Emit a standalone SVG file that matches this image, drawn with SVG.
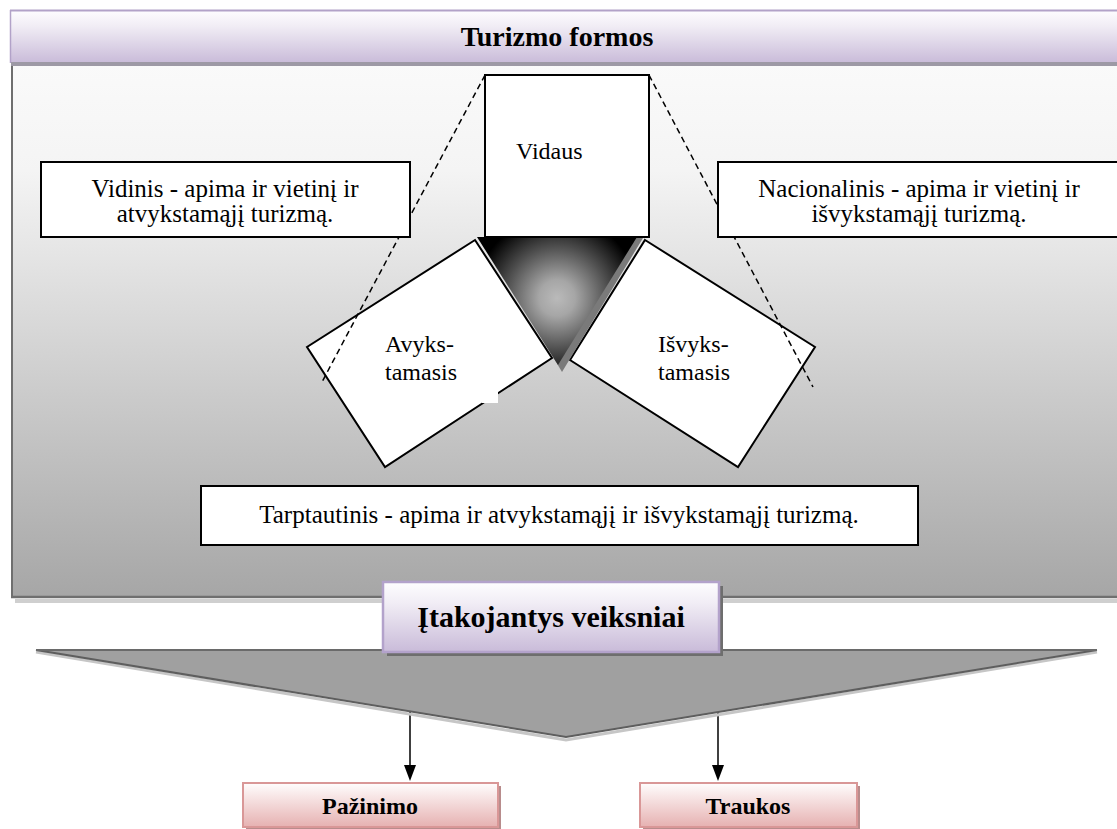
<svg xmlns="http://www.w3.org/2000/svg" width="1117" height="829" viewBox="0 0 1117 829">
<defs>
<style>
.t{font-family:"Liberation Serif","Times New Roman",serif;font-size:25px;fill:#000}
.s{font-family:"Liberation Serif","Times New Roman",serif;font-size:24px;fill:#000}
.b{font-family:"Liberation Serif","Times New Roman",serif;font-weight:bold;fill:#000}
.box{fill:#fff;stroke:#000;stroke-width:2}
.dash{fill:none;stroke:#000;stroke-width:1.5;stroke-dasharray:6 4}
.arr{fill:none;stroke:#000;stroke-width:1.5}
</style>
<linearGradient id="gHead" x1="0" y1="0" x2="0" y2="1"><stop offset="0" stop-color="#fefdff"/><stop offset="0.3" stop-color="#f1edf5"/><stop offset="1" stop-color="#c9bbd9"/></linearGradient>
<linearGradient id="gPanel" x1="0" y1="0" x2="0" y2="1"><stop offset="0" stop-color="#fafafa"/><stop offset="0.2" stop-color="#f4f4f4"/><stop offset="1" stop-color="#a6a6a6"/></linearGradient>
<linearGradient id="gPink" x1="0" y1="0" x2="0" y2="1"><stop offset="0" stop-color="#fffdfd"/><stop offset="1" stop-color="#e6b1b1"/></linearGradient>
<radialGradient id="gTri" gradientUnits="userSpaceOnUse" cx="557" cy="298" r="82"><stop offset="0" stop-color="#bababa"/><stop offset="0.22" stop-color="#a6a6a6"/><stop offset="0.62" stop-color="#505050"/><stop offset="1" stop-color="#000"/></radialGradient>
<marker id="ah" viewBox="0 0 16 12" refX="5" refY="6" markerWidth="16" markerHeight="12" markerUnits="userSpaceOnUse" orient="auto"><path d="M0,0 L16,6 L0,12 z" fill="#000"/></marker>
</defs>

<g id="panel">
<rect x="15" y="599" width="1110" height="4" fill="#cfcfcf"/>
<rect x="11" y="64" width="1120" height="534" fill="url(#gPanel)"/>
<line x1="12" y1="64" x2="12" y2="598" stroke="#6f6f6f" stroke-width="2"/>
<line x1="11" y1="597" x2="1117" y2="597" stroke="#6f6f6f" stroke-width="2.5"/>
</g>

<g id="header">
<rect x="10" y="10" width="1120" height="53" fill="url(#gHead)"/>
<line x1="10" y1="10.5" x2="1117" y2="10.5" stroke="#b2a2c8" stroke-width="2"/>
<line x1="10.5" y1="10" x2="10.5" y2="63" stroke="#b2a2c8" stroke-width="1.5"/>
<rect x="11" y="62" width="1110" height="4" fill="#9d99a5"/>
<text class="b" x="557" y="46" font-size="28" text-anchor="middle">Turizmo formos</text>
</g>

<g id="avykstamasis">
<polygon class="box" points="475,240 552,358 385,467 307,347"/>
<rect x="482" y="392" width="16" height="11" fill="#fff"/>
<text class="s" x="385" y="352">Avyks-</text>
<text class="s" x="385" y="380">tamasis</text>
</g>

<g id="isvykstamasis">
<polygon class="box" points="645,240 815,347 738,467 570,360"/>
<text class="s" x="658" y="352">Išvyks-</text>
<text class="s" x="658" y="380">tamasis</text>
</g>

<g id="triangle">
<polygon points="483,238 643,238 562,372" fill="#7a7a7a"/>
<polygon points="477,237 637,237 558,365" fill="url(#gTri)"/>
</g>

<g id="vidaus">
<rect class="box" x="485" y="75" width="164" height="162"/>
<text class="s" x="516" y="159">Vidaus</text>
</g>

<g id="connectors">
<line class="dash" x1="485" y1="75" x2="322" y2="382"/>
<line class="dash" x1="649" y1="75" x2="813" y2="387"/>
<line class="arr" x1="410" y1="711" x2="410" y2="770" marker-end="url(#ah)"/>
<line class="arr" x1="718" y1="712" x2="718" y2="770" marker-end="url(#ah)"/>
</g>

<g id="vidinis">
<rect class="box" x="41" y="162" width="369" height="75"/>
<text class="t" x="225" y="197" text-anchor="middle">Vidinis - apima ir vietinį ir</text>
<text class="t" x="225" y="222" text-anchor="middle">atvykstamąjį turizmą.</text>
</g>

<g id="nacionalinis">
<rect class="box" x="718" y="162" width="420" height="75"/>
<text class="t" x="919" y="197" text-anchor="middle">Nacionalinis - apima ir vietinį ir</text>
<text class="t" x="919" y="222" text-anchor="middle">išvykstamąjį turizmą.</text>
</g>

<g id="tarptautinis">
<rect class="box" x="201" y="486" width="717" height="59"/>
<text class="t" x="559" y="523" text-anchor="middle">Tarptautinis - apima ir atvykstamąjį ir išvykstamąjį turizmą.</text>
</g>

<g id="funnel">
<polyline points="36,652 566,740 1097,652" fill="none" stroke="#c6c6c6" stroke-width="3"/>
<polygon points="36,650 1097,650 566,737" fill="#a0a0a0"/>
<polyline points="36,650 566,737 1097,650" fill="none" stroke="#5e5e5e" stroke-width="2"/>
<line x1="36" y1="650" x2="1097" y2="650" stroke="#6a6a6a" stroke-width="2"/>
</g>

<g id="itakojantys">
<rect x="387" y="586" width="336" height="70" fill="#6e6e6e"/>
<rect x="383" y="582" width="336" height="70" fill="url(#gHead)" stroke="#b3a2cb" stroke-width="2.5"/>
<text class="b" x="551" y="627" font-size="30" text-anchor="middle">Įtakojantys veiksniai</text>
</g>

<g id="pazinimo">
<rect x="246" y="786" width="255" height="44" fill="#b88c8c"/>
<rect x="243" y="783" width="255" height="44" fill="url(#gPink)" stroke="#d99797" stroke-width="2"/>
<text class="b" x="370" y="814" font-size="24" text-anchor="middle">Pažinimo</text>
</g>

<g id="traukos">
<rect x="643" y="786" width="217" height="44" fill="#b88c8c"/>
<rect x="640" y="783" width="217" height="44" fill="url(#gPink)" stroke="#d99797" stroke-width="2"/>
<text class="b" x="748" y="814" font-size="24" text-anchor="middle">Traukos</text>
</g>
</svg>
